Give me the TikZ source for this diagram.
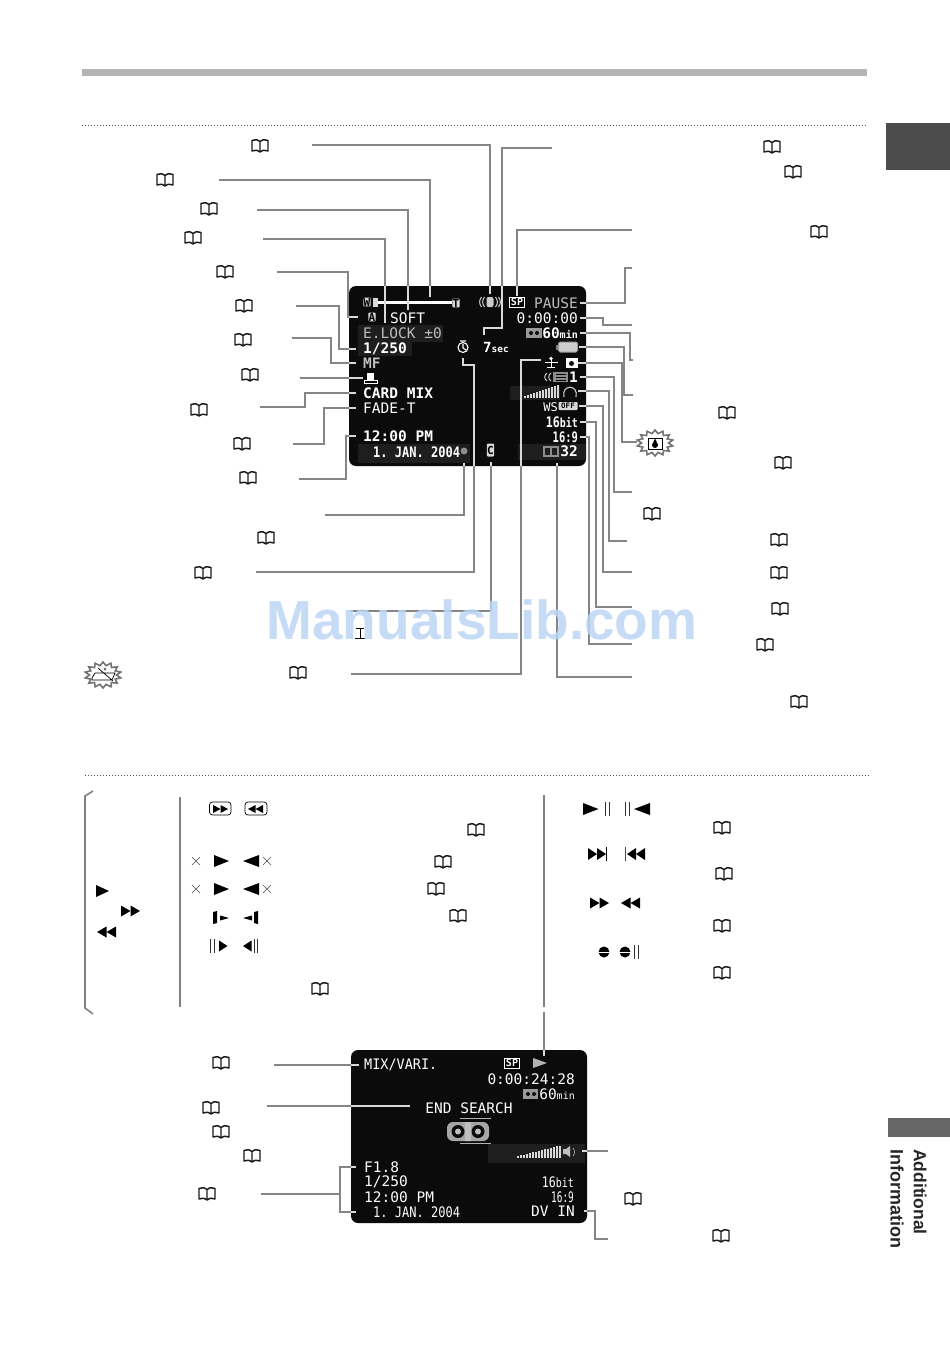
\documentclass[tikz,border=0pt]{standalone}
\usepackage{fontspec}
\setmainfont{Liberation Sans}
\setmonofont{DejaVu Sans Mono}
\usetikzlibrary{shapes.geometric}

\definecolor{barcol}{HTML}{B4B4B4}
\definecolor{tabdark}{HTML}{4C4C4C}
\definecolor{tabmid}{HTML}{666666}
\definecolor{markcol}{HTML}{BBD5F5}
\definecolor{scrblack}{HTML}{0B0B0B}
\definecolor{scrband}{HTML}{1E1E1E}
\definecolor{scrgrey}{HTML}{BDBDBD}
\colorlet{leadcol}{black!48}

\tikzset{
  leader/.style={draw=leadcol,line width=2pt,shorten >=#1},
  leader/.default=2pt,
  scrtext/.style={font=\ttfamily\fontsize{14.5}{15}\selectfont,text=white,inner sep=0pt},
  scrbold/.style={font=\ttfamily\bfseries\fontsize{14.5}{15}\selectfont,text=white,inner sep=0pt},
  scrsmall/.style={font=\ttfamily\bfseries\fontsize{11}{11}\selectfont,text=black,fill=white!85!black,inner sep=0.4pt,rounded corners=1pt},
  sptag/.style={font=\ttfamily\bfseries\fontsize{10}{10}\selectfont,text=white,draw=white,fill=black,line width=.9pt,inner sep=1.2pt},
  scrspot/.style={minimum width=#1,minimum height=12pt,inner sep=0pt},
  scrspot/.default=14pt,
  burst/.style={star,star points=14,star point ratio=1.35,draw=black!55,line width=1.6pt,fill=white,minimum size=26pt,xscale=1.4,inner sep=0pt},
  bookicon/.pic={
    \draw[black!90,line width=1.45pt,line join=round]
      (-8,-5.5) .. controls (-4,-6.5) and (-1,-6.5) .. (0,-4.5) .. controls (1,-6.5) and (4,-6.5) .. (8,-5.5)
      -- (8,5) .. controls (4,4) and (1,4) .. (0,6) .. controls (-1,4) and (-4,4) .. (-8,5) -- cycle
      (0,-4.5) -- (0,6);
  },
}

% triangle: base x, mid y, signed length, half height
\newcommand{\tri}[4]{\fill[shift={(#1,#2)}] (0,-#4) -- (#3,0) -- (0,#4) -- cycle;}
\newcommand{\crossmark}[2]{\draw[black!70,line width=.6pt,shift={(#1,#2)}] (-4,-4) -- (4,4) (-4,4) -- (4,-4);}
\newcommand{\barpair}[2]{\draw[black!80,line width=.9pt,shift={(#1,#2)}] (0,-7) -- (0,7) (3.5,-7) -- (3.5,7);}

\newcommand{\leaderlines}{
  \draw[leader=2pt] (lbA) -| (stabspot.north);
  \draw[leader=5pt] (lbB) -| (zoomtick);
  \draw[leader=2pt] (lbC) -| (softtext.north);
  \draw[leader=10pt] (lbD) -| (elocktick);
  \draw[leader=10pt] (lbE) -- ++(71,0) |- (atag.west);
  \draw[leader=7pt] (lbF) -- ++(43,0) |- (shutter.west);
  \draw[leader=7pt] (lbG) -- ++(39,0) |- (mftext.west);
  \draw[leader=0pt] (lbH) -- (stampspot.west);
  \draw[leader=7pt] (lbI) -- ++(45,0) |- (cardmix.west);
  \draw[leader=7pt] (lbJ) -- ++(31,0) |- (fadetext.west);
  \draw[leader=7pt] (lbK) -- ++(47,0) |- (clocktext.west);
  \draw[leader=8pt] (lbL) -| (recdot.south);
  \draw[leader=5pt] (lbM) -- ++(218,0) |- (timerfoot) -- (timer.south);
  \draw[leader=5pt] (lbN) -| (cmark.south);
  \draw[leader=4pt] (lbO) -- ++(170,0) |- (dvspot.west);
  \draw[leader=0pt] (lbP) -| (sevenbend) -| (seventick);
  \draw[leader=1pt] (lbQ) -| (spbox.north);
  \draw[leader] (lbR) -- ++(-7,0) |- (pausetext.east);
  \draw[leader] (lbS) -- ++(-29,0) |- (timecode.east);
  \draw[leader] (lbT) -- ++(-3,0) |- (tapemin.east);
  \draw[leader=1pt] (lbU) -- ++(-9,0) |- (battery.east);
  \draw[leader=1pt] (lbV) -- ++(-15,0) |- (dropbox.east);
  \draw[leader] (lbW) -- ++(-18,0) |- (onetext.east);
  \draw[leader=1pt] (lbX) -- ++(-18,0) |- (headspot.east);
  \draw[leader=1pt] (lbY) -- ++(-29,0) |- (offbox.east);
  \draw[leader] (lbZ) -- ++(-36,0) |- (bittext.east);
  \draw[leader] (lbAA) -- ++(-43,0) |- (ratio.east);
  \draw[leader=6pt] (lbAB) -| (cardspot.south);
  % lower screen
  \draw[leader=5pt] (lbmix) -- (mixvari.west);
  \draw[leader=15pt] (lbend) -- (endsearch.west |- lbend);
  \draw[leader=8pt] (lbfnum) -- ++(79,0) |- (fnum.west);
  \draw[leader=17pt] (lbfnum) -- ++(79,0) |- (bdate.west);
  \draw[leader=8pt] (lbplay) -- (playtick);
  \draw[leader=3pt] (lbspk) -- (speaker.east);
  \draw[leader=9pt] (lbdv) -- ++(-13,0) |- (dvin.east);
}

\begin{document}
\begin{tikzpicture}[x=1pt,y=-1pt]
\useasboundingbox (0,0) rectangle (950,1349);
\fill[white] (0,0) rectangle (950,1349);

% page furniture
\fill[barcol] (82,69) rectangle (867,76);
\fill[tabdark] (886,123) rectangle (950,170);
\fill[tabmid] (888,1118) rectangle (950,1137);
\node[font=\bfseries\fontsize{17.5}{18}\selectfont,rotate=-90,anchor=west,inner sep=0pt,text=black!85] (tabword) at (920,1149) {Additional};
\node[font=\bfseries\fontsize{18}{18}\selectfont,rotate=-90,anchor=west,inner sep=0pt,text=black!85] (tabwordb) at (897,1149) {Information};
\draw[black!70,line width=1pt,dash pattern=on 1pt off 2pt] (82,125) -- (867,125);
\draw[black!70,line width=1pt,dash pattern=on 1pt off 2pt] (85,775) -- (869,775);

% upper screen
\fill[scrblack,rounded corners=7pt] (349,286) rectangle (586,466);
\fill[scrband] (358,325) rectangle (443,342);
\fill[scrband] (358,341) rectangle (412,356);
\fill[scrband] (358,444) rectangle (470,463);
\fill[scrband] (510,386) rectangle (560,400);
\fill[scrband] (518,444) rectangle (586,460);

\node[scrsmall] (wtag) at (367,302) {W};
\fill[white!85!black] (372.5,297.5) rectangle (378,306.5);
\fill[white] (378,301) rectangle (452,303.5);
\node[scrsmall] (ttag) at (456,303) {T};
\coordinate (zoomtick) at (430,302);
\node[scrsmall] (atag) at (372,317) {A};
\node[scrtext,anchor=west] (softtext) at (390,318) {SOFT};
\node[scrtext,anchor=west,text=scrgrey] (elock) at (363,333) {E.LOCK ±0};
\coordinate (elocktick) at (385,333);
\node[scrbold,anchor=west] (shutter) at (363,349) {1/250};
\node[scrbold,anchor=west,text=scrgrey] (mftext) at (363,363) {MF};
\node[scrspot] (stampspot) at (370,378) {};
\draw[white,line width=1pt] (364,383.5) -- (364,380.5) -- (377,380.5) -- (377,383.5) -- cycle;
\fill[white] (367,373) rectangle (374,379.5);
\node[scrbold,anchor=west] (cardmix) at (363,393) {CARD MIX};
\node[scrtext,anchor=west] (fadetext) at (363,408) {FADE-T};
\node[scrbold,anchor=west] (clocktext) at (363,436) {12:00 PM};
\node[scrbold,anchor=west,xscale=.83] (topdate) at (373,452) {1. JAN. 2004};
\node[circle,fill=black!45,minimum size=7pt,inner sep=0pt] (recdot) at (464,451) {};
\node[circle,draw=white,line width=1.1pt,minimum size=10pt,inner sep=0pt] (timer) at (463,347.5) {};
\draw[white,line width=1.1pt] (463,344) -- (463,348) -- (466,350) (460,341) -- (466,341);
\coordinate (timerfoot) at (463,365);
\node[scrbold,anchor=west,inner sep=0pt] (sevensec) at (483,347) {\fontsize{14}{14}\selectfont 7\fontsize{9.5}{10}\selectfont sec};
\coordinate (seventick) at (484,335);
\coordinate (sevenbend) at (502,328);
\node[scrspot] (stabspot) at (490,302) {};
\fill[white!80!black,rounded corners=2pt] (486.5,297) rectangle (493.5,307);
\draw[white!80!black,line width=1pt]
  (484.5,297) .. controls (482,300) and (482,304) .. (484.5,307)
  (481.5,297) .. controls (479,300) and (479,304) .. (481.5,307)
  (495.5,297) .. controls (498,300) and (498,304) .. (495.5,307)
  (498.5,297) .. controls (501,300) and (501,304) .. (498.5,307);
\node[sptag] (spbox) at (517,302) {SP};
\node[scrtext,anchor=east,text=scrgrey] (pausetext) at (578,303) {PAUSE};
\node[scrtext,anchor=east] (timecode) at (578,318) {0:00:00};
\node[scrbold,anchor=east] (tapemin) at (578,333) {60\fontsize{10}{10}\selectfont min};
\fill[black!40] (526,328) rectangle (542,338);
\fill[scrblack] (531,333) circle (2pt) (537,333) circle (2pt);
\node[draw=black!40,fill=white!80!black,line width=1pt,rounded corners=1.5pt,minimum width=19pt,minimum height=10pt,inner sep=0pt] (battery) at (568,347) {};
\fill[black!50] (556,344.5) rectangle (558,349.5);
\node[scrspot] (dvspot) at (552,360) {};
\draw[white,line width=1pt] (545,362) -- (558,362) (551,358) -- (551,367) (547,367) -- (555,367);
\fill[white] (551,358.5) circle (1.8pt);
\node[draw=white,fill=white,minimum width=11pt,minimum height=9pt,inner sep=0pt] (dropbox) at (571.5,363) {};
\fill[black] (571.5,363.5) circle (2.5pt);
\draw[white!80!black,line width=1pt] (547,373) .. controls (544,375) and (544,379) .. (547,381)
  (551,373) .. controls (548,375) and (548,379) .. (551,381);
\fill[black!45] (553,372) rectangle (568,382);
\draw[black,line width=.5pt] (556,374) -- (566,374) (556,377) -- (566,377) (556,380) -- (566,380);
\node[scrbold,anchor=east] (onetext) at (578,377) {1};
\foreach \i in {0,...,11}
  \fill[white!85!black] (524+\i*3,398) rectangle ++(2,-2-\i);
\node[scrspot] (headspot) at (570,391) {};
\draw[white!80!black,line width=1.1pt] (564,397) .. controls (561,384) and (579,384) .. (576,397);
\node[scrtext,anchor=east,text=white] (wstext) at (558,407) {\fontsize{12}{12}\selectfont WS};
\node[scrsmall,minimum width=19pt,minimum height=8pt,font=\ttfamily\bfseries\fontsize{7.5}{8}\selectfont] (offbox) at (568,406) {OFF};
\node[scrbold,anchor=east,xscale=.8] (bittext) at (578,422) {16\fontsize{12.5}{13}\selectfont bit};
\node[scrbold,anchor=east,xscale=.72] (ratio) at (578,437) {16:9};
\node[scrspot=24pt] (cardspot) at (557,451) {};
\draw[black!45,line width=1.2pt] (544,447) rectangle (558,456) (551,447) -- (551,456);
\node[scrbold,anchor=east] (cardnum) at (578,451) {32};
\node[scrsmall,minimum height=13pt] (cmark) at (490.5,450) {C};

% free ends of the leaders, upper screen
\coordinate (lbA) at (312,145);
\coordinate (lbB) at (219,180);
\coordinate (lbC) at (257,210);
\coordinate (lbD) at (263,239);
\coordinate (lbE) at (277,272);
\coordinate (lbF) at (296,306);
\coordinate (lbG) at (292,338);
\coordinate (lbH) at (300,378);
\coordinate (lbI) at (260,407);
\coordinate (lbJ) at (293,444);
\coordinate (lbK) at (299,479);
\coordinate (lbL) at (325,515);
\coordinate (lbM) at (256,572);
\coordinate (lbN) at (350,611);
\coordinate (lbO) at (351,674);
\coordinate (lbP) at (552,148);
\coordinate (lbQ) at (632,230);
\coordinate (lbR) at (632,268);
\coordinate (lbS) at (632,325);
\coordinate (lbT) at (633,360);
\coordinate (lbU) at (633,395);
\coordinate (lbV) at (637,442);
\coordinate (lbW) at (632,492);
\coordinate (lbX) at (627,541);
\coordinate (lbY) at (632,572);
\coordinate (lbZ) at (632,607);
\coordinate (lbAA) at (632,644);
\coordinate (lbAB) at (632,677);

% lower screen
\fill[scrblack,rounded corners=7pt] (351,1050) rectangle (587,1223);
\fill[scrband] (488,1144) rectangle (585,1163);
\node[scrtext,anchor=west,xscale=.93] (mixvari) at (364,1065) {MIX/VARI.};
\node[sptag] (spboxb) at (512,1063) {SP};
\fill[white!70!black] (533,1058) -- (547,1063) -- (533,1068) -- cycle;
\coordinate (playtick) at (544,1064);
\node[scrtext,anchor=east] (timecodeb) at (575,1079) {0:00:24:28};
\node[scrtext,anchor=east] (tapeminb) at (575,1094) {60\fontsize{10}{10}\selectfont min};
\fill[black!40] (523,1089) rectangle (538,1099);
\fill[scrblack] (528,1094) circle (2pt) (534,1094) circle (2pt);
\node[scrtext,anchor=center] (endsearch) at (469,1108) {END SEARCH};
\draw[white!70!black,line width=.7pt] (460,1118) -- (491,1118) (460,1143) -- (491,1143);
\fill[white!65!black,rounded corners=6pt] (447,1122) rectangle (489,1141);
\fill[scrblack] (458,1131.5) circle (6.5pt) (478,1131.5) circle (6.5pt);
\fill[white!75!black] (458,1131.5) circle (3pt) (478,1131.5) circle (3pt) (465,1122) rectangle (471,1141);
\foreach \i in {0,...,14}
  \fill[white!85!black] (517+\i*3,1158) rectangle ++(2,-2-\i*.75);
\node[scrspot=16pt] (speaker) at (571,1151) {};
\fill[white!75!black] (563,1149) -- (566,1149) -- (570,1146) -- (570,1157) -- (566,1154) -- (563,1154) -- cycle;
\draw[white!60!black,line width=.8pt] (573,1148) .. controls (575,1150) and (575,1154) .. (573,1156);
\node[scrtext,anchor=west] (fnum) at (364,1167) {F1.8};
\node[scrtext,anchor=west] (shutterb) at (364,1182) {1/250};
\node[scrtext,anchor=west] (clockb) at (364,1197) {12:00 PM};
\node[scrtext,anchor=west,xscale=.83] (bdate) at (373,1212) {1. JAN. 2004};
\node[scrtext,anchor=east,xscale=.8] (bitb) at (574,1182) {16\fontsize{12.5}{13}\selectfont bit};
\node[scrtext,anchor=east,xscale=.65] (ratiob) at (574,1197) {16:9};
\node[scrtext,anchor=east] (dvin) at (575,1211) {DV IN};

\coordinate (lbmix) at (274,1065);
\coordinate (lbend) at (267,1106);
\coordinate (lbfnum) at (261,1194);
\coordinate (lbplay) at (544,1012);
\coordinate (lbspk) at (608,1151);
\coordinate (lbdv) at (608,1239);

\leaderlines
\begin{scope}
\clip[rounded corners=7pt] (349,286) rectangle (586,466);
\colorlet{leadcol}{white!85!black}
\leaderlines
\end{scope}
\begin{scope}
\clip[rounded corners=7pt] (351,1050) rectangle (587,1223);
\colorlet{leadcol}{white!85!black}
\leaderlines
\end{scope}

% bursts
\node[burst] (burstdrop) at (655,443) {};
\draw[black,line width=.6pt] (648,438) rectangle (662,449);
\fill[black] (655,445) circle (3pt);
\fill[black] (653,442.5) -- (655,438.5) -- (657,442.5) -- cycle;
\node[burst] (burstbatt) at (103,675) {};
\draw[black,line width=.7pt] (92,678) -- (95,673) -- (115,673) -- (112,680) -- (92,680) -- cycle (98,668) -- (113,681);
\fill[black!60] (105,669) circle (1.5pt);

% tape icon next to the long leader
\draw[black,line width=1pt] (356,628) -- (364,628) (360,628) -- (360,638) (355,638) -- (365,638);

% books
\foreach \x/\y in {260/146,165/180,209/209,193/238,225/272,244/306,243/340,250/375,
  199/410,242/444,248/478,266/538,203/573,298/673,772/147,793/172,819/232,727/413,
  783/463,652/514,779/540,779/573,780/609,765/645,799/702,476/830,443/862,436/889,
  458/916,320/989,722/828,724/874,722/926,722/973,221/1063,211/1108,221/1132,252/1156,
  207/1194,633/1199,721/1236}
  \pic at (\x,\y) {bookicon};

% lower panel rules
\draw[black!50,line width=1.6pt] (93,791) -- (85,796) -- (85,1008) -- (93,1014);
\draw[black!50,line width=1.6pt] (180,797) -- (180,1007);
\draw[black!50,line width=1.6pt] (544,795) -- (544,1007);

% left column
\tri{96}{891}{13}{6}
\tri{121}{911}{9.5}{5.5}
\tri{130.5}{911}{9.5}{5.5}
\tri{116}{932}{-9.5}{5.5}
\tri{106.5}{932}{-9.5}{5.5}

% middle column
\draw[black,line width=.7pt,rounded corners=3pt] (209.5,802) rectangle (231,815);
\tri{213}{809}{7.5}{4}
\tri{220.5}{809}{7.5}{4}
\draw[black,line width=.7pt,rounded corners=3pt] (245,802) rectangle (267,815);
\tri{263}{809}{-7.5}{4}
\tri{255.5}{809}{-7.5}{4}
\foreach \y in {861,889}{
  \crossmark{196}{\y}
  \tri{214}{\y}{15}{6}
  \tri{259}{\y}{-16}{6}
  \crossmark{267}{\y}
}
\fill (213,912) -- (217,911) -- (217,923) -- (213,924) -- cycle;
\tri{220}{918}{9}{2.5}
\fill (258,911) -- (254,912) -- (254,923) -- (258,924) -- cycle;
\tri{252}{918}{-9}{2.5}
\barpair{210.5}{946}
\tri{219}{946}{8.5}{5.5}
\tri{251.5}{946}{-8.5}{5.5}
\barpair{254}{946}

% right column
\tri{583}{809}{15.5}{6}
\barpair{605.5}{809}
\barpair{625.5}{809}
\tri{650}{809}{-16}{6}
\tri{588}{854}{9}{6}
\tri{597}{854}{9}{6}
\draw[black,line width=.9pt] (606.5,847) -- (606.5,861);
\draw[black!70,line width=.9pt] (625.5,847) -- (625.5,861);
\tri{636}{854}{-9}{6}
\tri{645}{854}{-9}{6}
\tri{590}{903}{9.5}{5.5}
\tri{599.5}{903}{9.5}{5.5}
\tri{630.5}{903}{-9.5}{5.5}
\tri{640}{903}{-9.5}{5.5}
\fill (604,952) circle (5.5pt) (625,952) circle (5.5pt);
\draw[white,line width=.6pt] (597,952) -- (611,952) (618,952) -- (632,952);
\barpair{634.5}{952}

% watermark
\node[font=\bfseries\fontsize{55}{55}\selectfont,text=markcol,opacity=.85,inner sep=0pt] (manualmark) at (482,620) {ManualsLib.com};
\end{tikzpicture}
\end{document}
